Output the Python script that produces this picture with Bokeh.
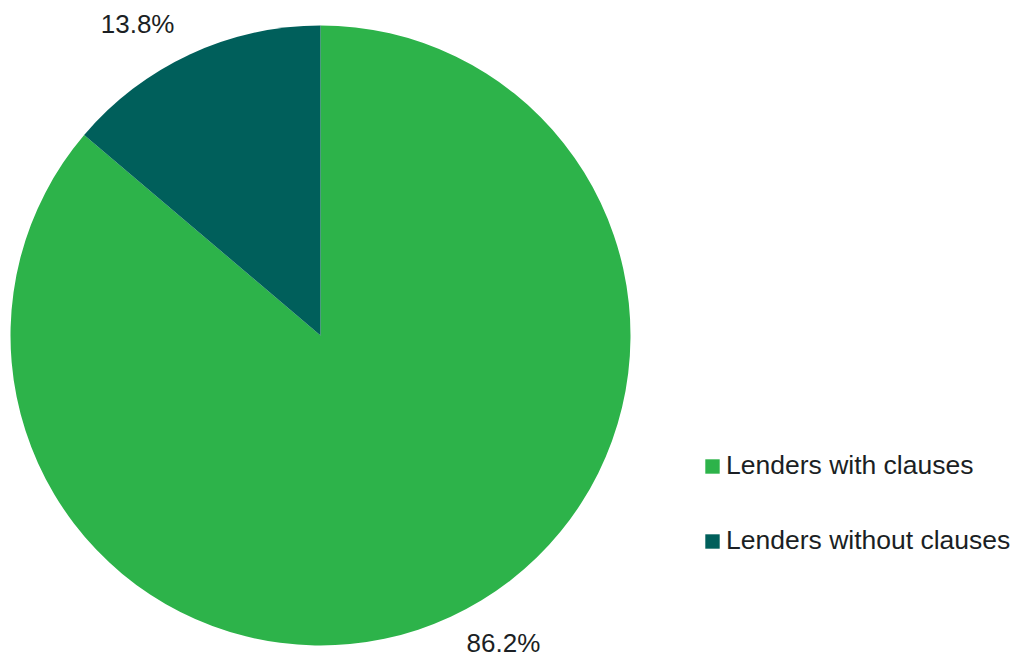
import math
from bokeh.plotting import figure
from bokeh.models import Range1d, Legend, LegendItem
from bokeh.core.properties import value
from bokeh.embed import file_html
from bokeh.resources import INLINE

categories = ["Lenders with clauses", "Lenders without clauses"]
shares = [86.2, 13.8]
labels = ["86.2%", "13.8%"]
colors = ["#2db34a", "#005f5b"]

W, H = 1013, 658
p = figure(width=W, height=H, output_backend="svg", toolbar_location=None,
           x_range=Range1d(0, W), y_range=Range1d(658 - H, 658),
           min_border=0, outline_line_color=None, background_fill_color=None,
           border_fill_color="white")
p.axis.visible = False
p.grid.visible = False

cx, cy, r = 320, 658 - 335, 310
total = sum(shares)
start = math.pi / 2
starts, ends, mids = [], [], []
for s in shares:
    sweep = s / total * 2 * math.pi
    starts.append(start)
    ends.append(start - sweep)
    mids.append(start - sweep / 2)
    start -= sweep

renderers = []
for i in range(len(categories)):
    rr = p.wedge(x=cx, y=cy, radius=r, start_angle=starts[i], end_angle=ends[i],
                 direction="clock", fill_color=colors[i], line_color=None)
    renderers.append(rr)

# percentage labels, placed outside each slice (kept inside the canvas)
off = math.radians(5.6)
lx, ly = [], []
for m in mids:
    a = m + off
    d = 361
    lx.append(cx + d * math.cos(a))
    ly.append(max(cy + d * math.sin(a), (658 - H) + 16))
p.text(x=lx, y=ly, text=labels, text_align="center", text_baseline="middle",
       text_font=value("Liberation Sans"), text_font_size="26px", text_color="#1b1f24")

legend = Legend(items=[LegendItem(label=categories[i], renderers=[renderers[i]]) for i in range(2)],
                location=(703, H - 452 - 104), orientation="vertical",
                glyph_width=18, glyph_height=18, label_height=30, spacing=44,
                label_standoff=5, padding=0, margin=0, border_line_color=None,
                background_fill_alpha=0, label_text_font="Liberation Sans",
                label_text_font_size="26.5px", label_text_color="#1b1f24",
                label_text_baseline="middle")
p.add_layout(legend, "center")

open("out.html", "w").write(file_html(p, INLINE))
